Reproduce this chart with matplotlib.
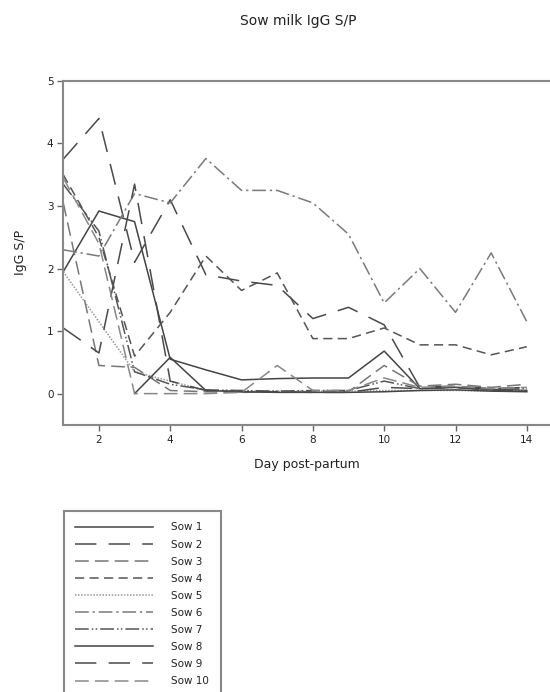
import numpy as np
import matplotlib
matplotlib.use("Agg")
import matplotlib.pyplot as plt

# days post-partum and IgG S/P per sow
days = np.arange(1, 15)
nan = np.nan
sow1 = [1.95, 2.92, 2.75, 0.55, 0.38, 0.22, 0.24, 0.25, 0.25, 0.68, 0.08, 0.10, 0.07, 0.05]
sow2 = [3.75, 4.40, 2.10, 3.10, 1.90, 1.80, 1.73, 1.20, 1.38, 1.10, 0.10, 0.12, 0.08, 0.10]
sow3 = [3.05, 0.45, 0.42, 0.05, 0.03, 0.02, 0.03, 0.03, 0.03, 0.45, 0.12, 0.15, 0.10, 0.15]
sow4 = [3.50, 2.50, 0.60, 1.30, 2.20, 1.65, 1.93, 0.88, 0.88, 1.05, 0.78, 0.78, 0.62, 0.75]
sow5 = [1.95, 1.15, 0.35, 0.20, 0.05, 0.04, 0.04, 0.04, 0.04, 0.05, 0.05, 0.05, 0.04, 0.04]
sow6 = [2.30, 2.20, 3.20, 3.05, 3.76, 3.25, 3.25, 3.05, 2.55, 1.45, 2.00, 1.30, 2.25, 1.15]
sow7 = [3.35, 2.60, 0.35, 0.15, 0.06, 0.05, 0.04, 0.05, 0.05, 0.20, 0.08, 0.10, 0.06, 0.08]
sow8 = [nan, nan, 0.00, 0.58, 0.05, 0.03, 0.02, 0.02, 0.02, 0.03, 0.05, 0.06, 0.04, 0.03]
sow9 = [1.05, 0.65, 3.35, 0.20, 0.05, 0.03, 0.03, 0.02, 0.02, 0.10, 0.08, 0.10, 0.05, 0.05]
sow10 = [3.45, 2.40, 0.00, 0.00, 0.00, 0.02, 0.45, 0.05, 0.05, 0.25, 0.10, 0.12, 0.08, 0.10]

labels = ["Sow 1", "Sow 2", "Sow 3", "Sow 4", "Sow 5",
          "Sow 6", "Sow 7", "Sow 8", "Sow 9", "Sow 10"]
series = [sow1, sow2, sow3, sow4, sow5, sow6, sow7, sow8, sow9, sow10]

# line styles like the SigmaPlot default sequence
styles = [
    "-",
    (0, (14, 8)),
    (0, (9, 4)),
    (0, (6, 3.5)),
    (0, (1, 1)),
    (0, (9, 2.5, 1.5, 2.5)),
    (0, (9, 2, 1, 1.5, 1, 2)),
    "-",
    (0, (14, 8)),
    (0, (9, 4)),
]
colors = ["#444444", "#4a4a4a", "#777777", "#555555", "#999999",
          "#7a7a7a", "#555555", "#444444", "#4a4a4a", "#888888"]

fig = plt.figure(figsize=(5.5, 6.92), dpi=100)
ax = fig.add_axes([0.115, 0.386, 0.885, 0.497])

handles = []
for y, lab, ls, c in zip(series, labels, styles, colors):
    h, = ax.plot(days, y, linestyle=ls, color=c, linewidth=1.1, label=lab)
    handles.append(h)

ax.set_xlim(1, 14.65)
ax.set_ylim(-0.5, 5)
ax.set_xticks([2, 4, 6, 8, 10, 12, 14])
ax.set_yticks([0, 1, 2, 3, 4, 5])
ax.tick_params(direction="out", length=4, width=1, color="#666666",
               labelsize=7.5, labelcolor="#222222", pad=3)

ax.spines["right"].set_visible(False)
for s in ["left", "bottom", "top"]:
    ax.spines[s].set_color("#888888")
    ax.spines[s].set_linewidth(1.5)

ax.set_xlabel("Day post-partum", fontsize=9, color="#222222", labelpad=10)
ax.set_ylabel("IgG S/P", fontsize=9, color="#222222", labelpad=14)
fig.text(0.542, 0.969, "Sow milk IgG S/P", ha="center", va="center",
         fontsize=10, color="#222222")

leg = fig.legend(handles=handles, labels=labels, loc="upper left",
                 bbox_to_anchor=(64 / 550, 1 - 511 / 692),
                 bbox_transform=fig.transFigure, fontsize=7.5,
                 handlelength=7.4, handletextpad=1.8, labelspacing=0.68,
                 borderpad=1.1, borderaxespad=0, fancybox=False,
                 framealpha=1)
leg.get_frame().set_edgecolor("#888888")
leg.get_frame().set_linewidth(1.5)
for t in leg.get_texts():
    t.set_color("#222222")

fig.savefig("out.png", dpi=100)
